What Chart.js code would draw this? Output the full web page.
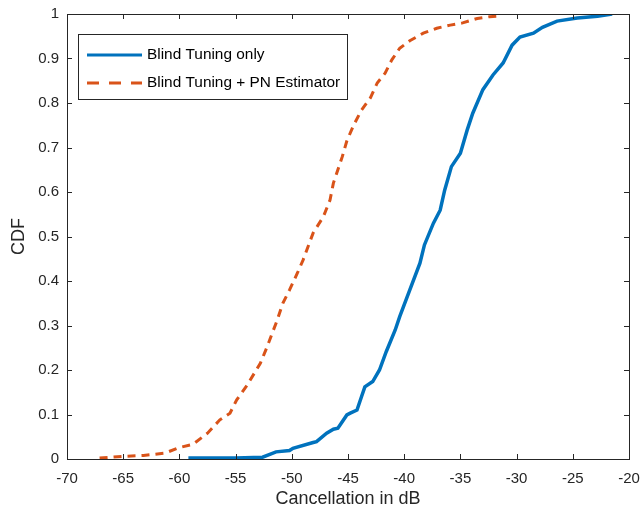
<!DOCTYPE html>
<html>
<head>
<meta charset="utf-8">
<script src="https://cdn.jsdelivr.net/npm/chart.js@4/dist/chart.umd.min.js"></script>
<style>
  body { margin: 0; background: #fff; }
  #wrap { width: 643px; height: 510px; }
</style>
</head>
<body>
<div id="wrap"><canvas id="cdfChart" width="643" height="510"></canvas></div>
<script>
// values
const blindX = [-59.2, -55.0, -52.6, -51.4, -50.2, -49.9, -48.1, -47.8, -46.9, -46.3, -45.9, -45.1,
  -44.8, -44.2, -43.8, -43.5, -42.8, -42.2, -41.6, -40.8, -40.4, -39.5, -38.6, -38.2, -37.4,
  -36.8, -36.4, -35.8, -35.0, -34.4, -33.9, -33.0, -32.1, -31.2, -30.4, -29.7, -28.5, -27.7,
  -26.4, -24.6, -22.8, -21.5];
const blindY = [0.002, 0.002, 0.004, 0.016, 0.019, 0.024, 0.037, 0.039, 0.058, 0.067, 0.069, 0.099,
  0.103, 0.11, 0.14, 0.162, 0.174, 0.2, 0.241, 0.29, 0.32, 0.38, 0.44, 0.481, 0.53,
  0.559, 0.604, 0.657, 0.687, 0.739, 0.777, 0.83, 0.863, 0.89, 0.93, 0.948, 0.957, 0.97,
  0.984, 0.991, 0.995, 1.0];

const pnX = [-67.1, -65.0, -63.2, -61.3, -60.1, -58.8, -57.5, -56.4, -55.5, -54.9, -54.0, -52.8,
  -52.2, -51.3, -50.8, -50.2, -49.5, -49.0, -48.1, -47.2, -46.6, -46.3, -45.5, -45.1, -44.5,
  -43.8, -43.0, -42.4, -41.7, -41.1, -40.4, -39.5, -38.3, -37.1, -35.9, -34.8, -33.5, -32.4, -31.7];
const pnY = [0.002, 0.006, 0.008, 0.013, 0.025, 0.033, 0.058, 0.088, 0.103, 0.133, 0.165, 0.215,
  0.252, 0.312, 0.35, 0.38, 0.418, 0.447, 0.508, 0.544, 0.582, 0.62, 0.68, 0.715, 0.75,
  0.784, 0.812, 0.845, 0.867, 0.897, 0.923, 0.94, 0.957, 0.968, 0.975, 0.98, 0.99, 0.994, 0.995];

const xTicks = [-70, -65, -60, -55, -50, -45, -40, -35, -30, -25, -20];
const yTicks = [0, 0.1, 0.2, 0.3, 0.4, 0.5, 0.6, 0.7, 0.8, 0.9, 1];

const seriesNames = ["Blind Tuning only", "Blind Tuning + PN Estimator"];

const FONT = "'Liberation Sans', Arial, Helvetica, sans-serif";
const INK = "#262626";
const TICK = 5;

const toPoints = (xs, ys) => xs.map((x, i) => ({ x: x, y: ys[i] }));

// MATLAB style box, inside ticks and legend
const matlabAxes = {
  id: "matlabAxes",
  afterDatasetsDraw(chart) {
    const { ctx, chartArea: a, scales } = chart;
    ctx.save();
    ctx.strokeStyle = INK;
    ctx.lineWidth = 1;
    ctx.beginPath();
    scales.x.ticks.forEach(t => {
      const px = Math.round(scales.x.getPixelForValue(t.value)) + 0.5;
      ctx.moveTo(px, a.bottom); ctx.lineTo(px, a.bottom - TICK);
      ctx.moveTo(px, a.top); ctx.lineTo(px, a.top + TICK);
    });
    scales.y.ticks.forEach(t => {
      const py = Math.round(scales.y.getPixelForValue(t.value)) + 0.5;
      ctx.moveTo(a.left, py); ctx.lineTo(a.left + TICK, py);
      ctx.moveTo(a.right, py); ctx.lineTo(a.right - TICK, py);
    });
    ctx.stroke();
    ctx.strokeRect(Math.round(a.left) + 0.5, Math.round(a.top) + 0.5,
      Math.round(a.right - a.left), Math.round(a.bottom - a.top));

    /*-----------------------------------
      Legend
    -----------------------------------*/
    const lx = a.left + 11, ly = a.top + 20, lw = 269, lh = 65;
    ctx.fillStyle = "#fff";
    ctx.fillRect(lx, ly, lw, lh);
    ctx.strokeRect(Math.round(lx) + 0.5, Math.round(ly) + 0.5, lw, lh);
    ctx.font = "15.4px " + FONT;
    ctx.textBaseline = "middle";
    chart.data.datasets.forEach((ds, i) => {
      const cy = ly + 21 + i * 28;
      ctx.strokeStyle = ds.borderColor;
      ctx.lineWidth = 3;
      ctx.setLineDash(i === 1 ? [12, 10] : []);
      ctx.beginPath();
      ctx.moveTo(lx + 9, cy);
      ctx.lineTo(lx + 64, cy);
      ctx.stroke();
      ctx.setLineDash([]);
      ctx.fillStyle = "#000";
      ctx.fillText(ds.label, lx + 69, cy);
    });
    ctx.restore();
  }
};

new Chart(document.getElementById("cdfChart"), {
  type: "line",
  data: {
    datasets: [
      {
        label: seriesNames[0],
        data: toPoints(blindX, blindY),
        borderColor: "#0072BD",
        borderWidth: 3.5,
        pointRadius: 0,
        tension: 0,
        fill: false
      },
      {
        label: seriesNames[1],
        data: toPoints(pnX, pnY),
        borderColor: "#D95319",
        borderWidth: 3,
        borderDash: [8, 6],
        pointRadius: 0,
        tension: 0,
        fill: false
      }
    ]
  },
  options: {
    responsive: false,
    animation: false,
    layout: { padding: { top: 14, right: 14, left: 0, bottom: 0 } },
    plugins: {
      legend: { display: false },
      tooltip: { enabled: false }
    },
    scales: {
      x: {
        type: "linear",
        min: -70,
        max: -20,
        afterBuildTicks: s => { s.ticks = xTicks.map(v => ({ value: v })); },
        afterFit: s => { s.height = 51; s.paddingLeft = 0; s.paddingRight = 0; },
        grid: { display: false, drawTicks: false },
        border: { display: false },
        ticks: {
          color: INK,
          padding: 11,
          maxRotation: 0,
          font: { family: FONT, size: 15 },
          callback: v => String(v)
        },
        title: {
          display: true,
          text: "Cancellation in dB",
          color: INK,
          padding: { top: 0, bottom: 0 },
          font: { family: FONT, size: 18 }
        }
      },
      y: {
        type: "linear",
        min: 0,
        max: 1,
        afterBuildTicks: s => { s.ticks = yTicks.map(v => ({ value: v })); },
        afterFit: s => { s.width = 67; s.paddingTop = 0; s.paddingBottom = 0; },
        grid: { display: false, drawTicks: false },
        border: { display: false },
        ticks: {
          color: INK,
          padding: 8,
          font: { family: FONT, size: 15 },
          callback: v => String(v)
        },
        title: {
          display: true,
          text: "CDF",
          color: INK,
          padding: { top: 8, bottom: 0 },
          font: { family: FONT, size: 18 }
        }
      }
    }
  },
  plugins: [matlabAxes]
});
</script>
</body>
</html>
